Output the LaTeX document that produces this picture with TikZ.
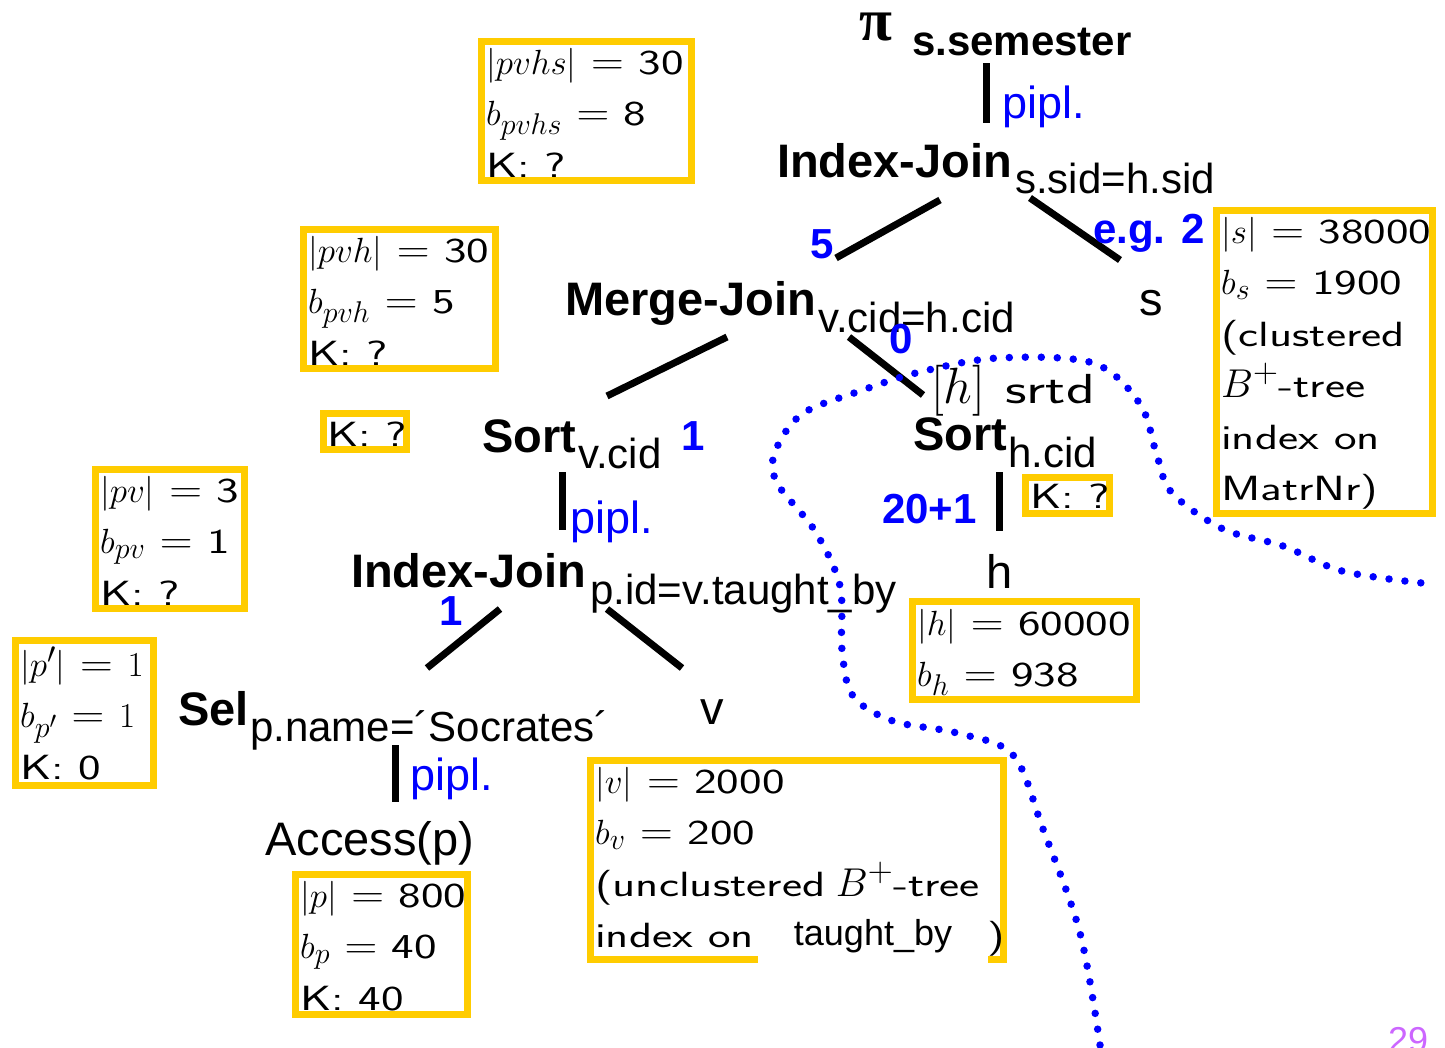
\RequirePackage{fix-cm}
\documentclass[tikz,border=0pt]{standalone}
\usepackage{fontspec}
\usepackage{graphicx}
\newfontfamily\hv{Liberation Sans}
\newfontfamily\hvserif{Liberation Serif}
\definecolor{yel}{HTML}{FFCC00}
\definecolor{vio}{HTML}{CC66FF}
\DeclareMathSizes{35}{35}{30}{24}
\DeclareMathSizes{42}{42}{34}{28}
\newcommand\st[2][1.37]{\scalebox{#1}[1]{\sffamily #2}}
\newcommand\eq{\mskip7.5mu\mathord{\scalebox{1.3}[1.12]{$=$}}\mskip7.5mu}
\newcommand\bplus{\scalebox{1.15}{$B^+$}}
\newcommand\blines[1]{\vtop{\baselineskip=51.5pt\lineskiplimit=-100pt\lineskip=0pt #1}}
\begin{document}
\begin{tikzpicture}[x=1pt,y=-1pt,
  op/.style={font=\hv\bfseries\fontsize{47}{50}\selectfont,inner sep=0pt,anchor=base west},
  subs/.style={font=\hv\fontsize{42}{46}\selectfont,inner sep=0pt,anchor=base west},
  leaf/.style={font=\hv\fontsize{47}{50}\selectfont,inner sep=0pt,anchor=base},
  pipl/.style={font=\hv\fontsize{45}{48}\selectfont,text=blue,inner sep=0pt,anchor=base west},
  num/.style={font=\hv\bfseries\fontsize{42}{46}\selectfont,text=blue,inner sep=0pt,anchor=base},
  edge/.style={line width=7pt},
  ybox/.style={draw=yel,line width=7pt,fill=white,anchor=north west,inner sep=0pt},
  btxt/.style={inner sep=0pt,anchor=base west,font=\fontsize{35}{51.5}\selectfont},
  dots/.style={blue,line width=7.5pt,line cap=round,dash pattern=on 0pt off 16pt}]
\useasboundingbox (0,0) rectangle (1445,1047);

% ---------- boxes ----------
\node[ybox,minimum width=210pt,minimum height=139pt] (bpvhs) at (478,38) {};
\node[btxt] (tpvhs) at (486,74) {\blines{\hbox{$|pvhs|\eq$\st{30}}\hbox{$b_{pvhs}\eq$\st{8}}\hbox{\st{K: ?}}}};

\node[ybox,minimum width=192pt,minimum height=139pt] (bpvh) at (300,226) {};
\node[btxt] (tpvh) at (308,262) {\blines{\hbox{$|pvh|\eq$\st{30}}\hbox{$b_{pvh}\eq$\st{5}}\hbox{\st{K: ?}}}};

\node[ybox,minimum width=83pt,minimum height=36pt] (bk1) at (320,410) {};
\node[btxt] (tk1) at (327,446) {\st{K: ?}};

\node[ybox,minimum width=149pt,minimum height=139pt] (bpv) at (92,466) {};
\node[btxt] (tpv) at (100,502) {\blines{\hbox{$|pv|\eq$\st{3}}\hbox{$b_{pv}\eq$\st{1}}\hbox{\st{K: ?}}}};

\node[ybox,minimum width=138pt,minimum height=145pt] (bpp) at (12,637) {};
\node[btxt] (tpp) at (20,676) {\blines{\hbox{$|p'|\eq 1$}\hbox{$b_{p'}\eq 1$}\hbox{\st{K: 0}}}};

\node[ybox,minimum width=172pt,minimum height=140pt] (bp) at (292,871) {};
\node[btxt] (tp) at (300,907) {\blines{\hbox{$|p|\eq$\st{800}}\hbox{$b_p\eq$\st{40}}\hbox{\st{K: 40}}}};

\node[ybox,minimum width=413pt,minimum height=199pt] (bv) at (587,757) {};
\node[btxt] (tv) at (595,793) {\blines{\hbox{$|v|\eq$\st{2000}}\hbox{$b_v\eq$\st{200}}\hbox{\st{(unclustered} \bplus\st{-tree}}\hbox{\st{index on}}}};
\node[fill=white,inner xsep=35.5pt,inner ysep=12pt,anchor=base,font=\hv\fontsize{36}{40}\selectfont] (tby) at (873,945) {taught\_by};
\node[btxt] (tpar) at (987,947) {\st{)}};

\node[ybox,minimum width=224pt,minimum height=98pt] (bh) at (909,598) {};
\node[btxt] (th) at (917,635) {\blines{\hbox{$|h|\eq$\st{60000}}\hbox{$b_h\eq$\st{938}}}};

\node[ybox,minimum width=84pt,minimum height=36pt] (bk2) at (1022,474) {};
\node[btxt] (tk2) at (1030,508) {\st{K: ?}};

\node[ybox,minimum width=216pt,minimum height=303pt] (bs) at (1213,207) {};
\node[btxt] (ts) at (1221,243) {\blines{\hbox{$|s|\eq$\st{38000}}\hbox{$b_s\eq$\st{1900}}\hbox{\st{(clustered}}\hbox{\bplus\st{-tree}}\hbox{\st{index on}}\hbox{\st{MatrNr)}}}};

% ---------- operator tree ----------
\node[inner sep=0pt,anchor=base west,text height=30pt,font=\hvserif\bfseries\fontsize{60}{64}\selectfont] (pi) at (859,40) {π};
\node[inner sep=0pt,anchor=base west,font=\hv\bfseries\fontsize{42}{46}\selectfont] (sem) at (912,55) {s.semester};
\coordinate (b1a) at (986,63); \coordinate (b1b) at (986,123);
\draw[edge] (b1a) -- (b1b);
\node[pipl] (pp1) at (1002,118) {pipl.};

\node[op] (ij1) at (777,177) {Index-Join};
\node[subs] (ij1s) at (1015,193) {s.sid=h.sid};
\coordinate (e1a) at (940,200); \coordinate (e1b) at (836,258);
\coordinate (e2a) at (1030,198); \coordinate (e2b) at (1120,260);
\draw[edge] (e1a) -- (e1b);
\draw[edge] (e2a) -- (e2b);
\node[num] (n5) at (822,258) {5};
\node[num,anchor=base west] (neg) at (1093,243) {e.g. 2};
\node[leaf] (ls) at (1151,315) {s};

\node[op] (mj) at (565,315) {Merge-Join};
\node[subs] (mjs) at (818,332) {v.cid=h.cid};
\coordinate (e3a) at (727,337); \coordinate (e3b) at (607,396);
\coordinate (e4a) at (849,337); \coordinate (e4b) at (923,395);
\draw[edge] (e3a) -- (e3b);
\draw[edge] (e4a) -- (e4b);
\node[num] (n0) at (901,353) {0};
\node[inner sep=0pt,anchor=base west,font=\fontsize{42}{46}\selectfont] (srtd) at (931,403) {{\fontsize{51}{54}\selectfont$[h]$}\hspace{20pt}\st[1.42]{srtd}};

\node[op] (so1) at (482,452) {Sort};
\node[subs] (so1s) at (578,468) {v.cid};
\node[num] (n1a) at (693,450) {1};
\coordinate (b2a) at (562,472); \coordinate (b2b) at (562,530);
\draw[edge] (b2a) -- (b2b);
\node[pipl] (pp2) at (570,533) {pipl.};

\node[op] (so2) at (913,450) {Sort};
\node[subs] (so2s) at (1008,467) {h.cid};
\coordinate (b3a) at (999,472); \coordinate (b3b) at (999,531);
\draw[edge] (b3a) -- (b3b);
\node[num,anchor=base east] (n21) at (977,523) {20+1};
\node[leaf] (lh) at (1000,588) {h};

\node[op] (ij2) at (351,587) {Index-Join};
\node[subs] (ij2s) at (590,604) {p.id=v.taught\_by};
\node[num] (n1b) at (451,625) {1};
\coordinate (e5a) at (500,609); \coordinate (e5b) at (427,668);
\coordinate (e6a) at (607,609); \coordinate (e6b) at (682,668);
\draw[edge] (e5a) -- (e5b);
\draw[edge] (e6a) -- (e6b);
\node[leaf] (lv) at (712,724) {v};

\node[op] (sel) at (178,725) {Sel};
\node[subs] (sels) at (250,741) {p.name=´Socrates´};
\coordinate (b4a) at (395,745); \coordinate (b4b) at (395,802);
\draw[edge] (b4a) -- (b4b);
\node[pipl] (pp3) at (410,790) {pipl.};
\node[leaf,anchor=base west] (acc) at (265,855) {Access(p)};

\node[inner sep=0pt,anchor=base west,text=vio,font=\hv\fontsize{36}{40}\selectfont] (pg) at (1388,1052) {29};

% ---------- dotted boundary ----------
\draw[dots] plot[smooth,tension=0.55] coordinates {
 (1100,1045) (1080,933) (1043,829) (1013,755) (957,733) (893,721) (853,696)
 (842,650) (840,586) (815,531) (777,483) (775,452) (802,414) (860,391)
 (920,372) (998,358) (1093,363) (1140,404) (1157,456) (1172,493) (1223,529)
 (1283,546) (1342,571) (1422,583)};
\end{tikzpicture}
\end{document}
